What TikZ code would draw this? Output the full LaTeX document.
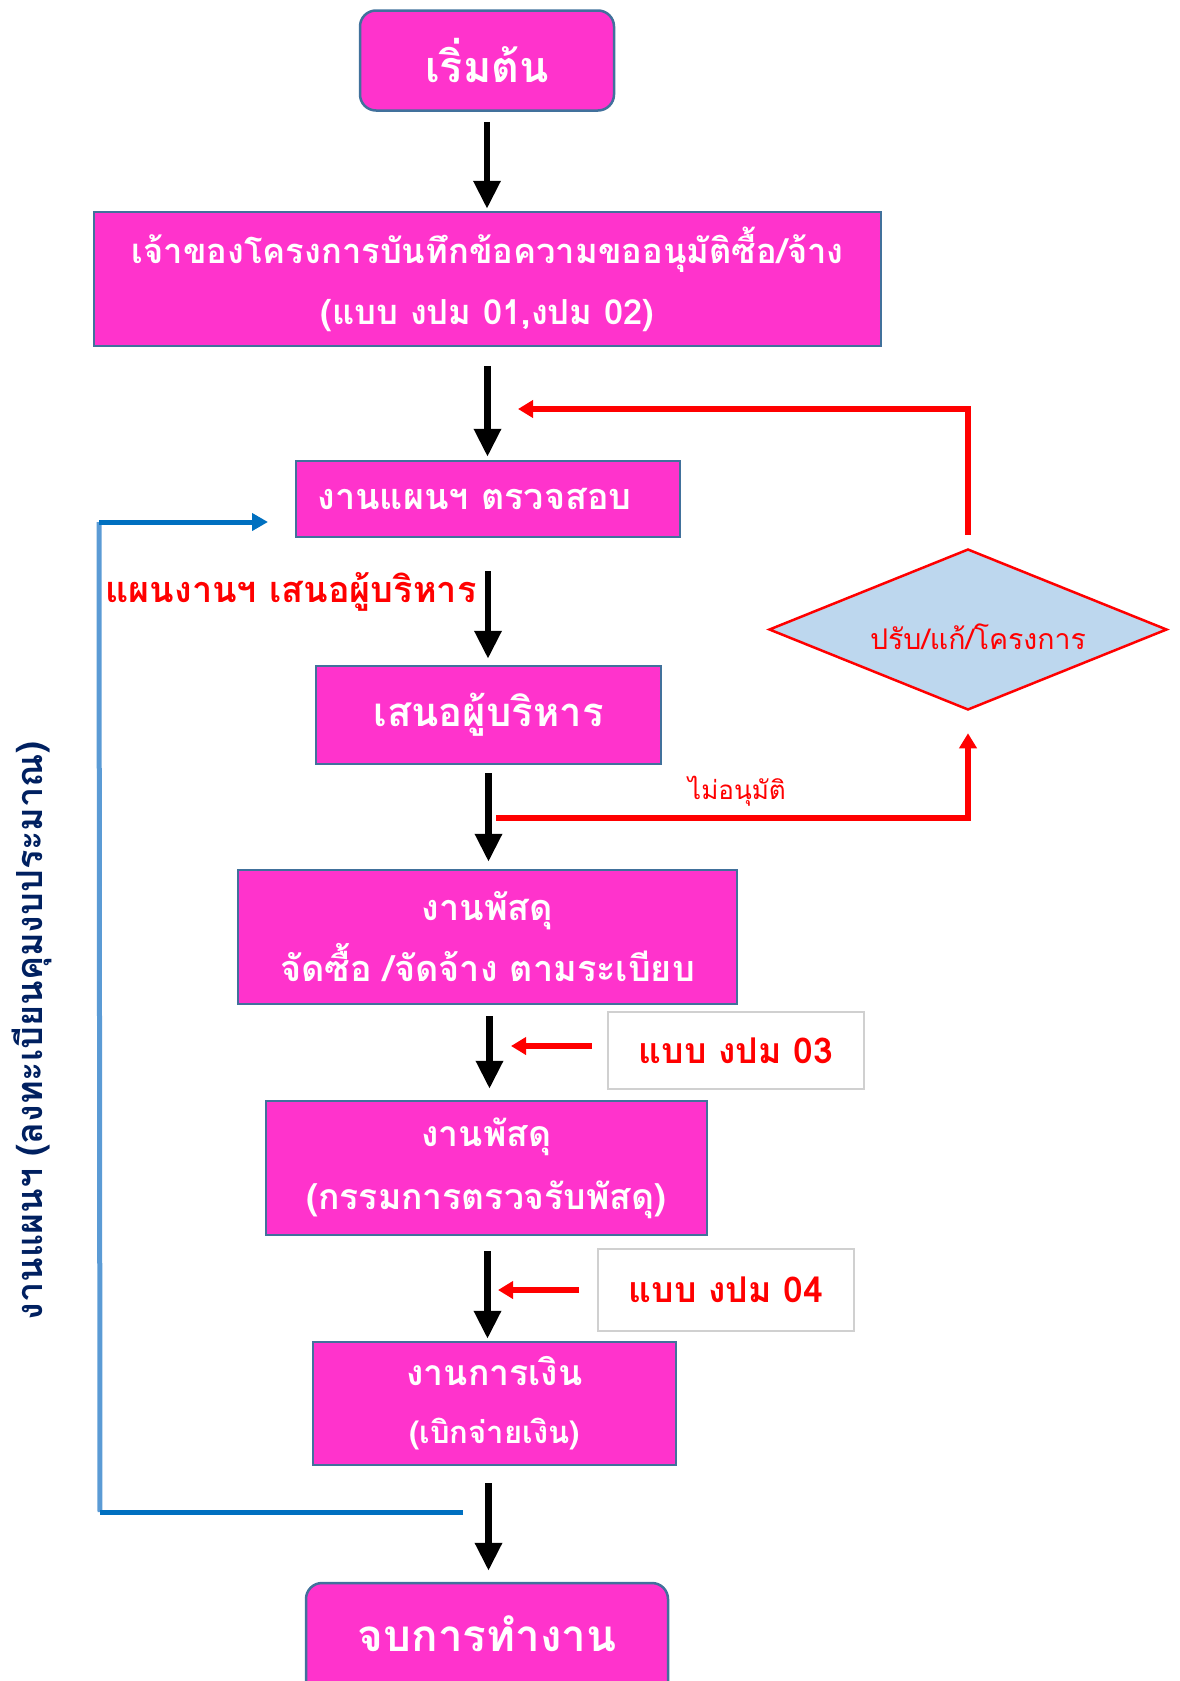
\documentclass[tikz,border=0pt]{standalone}
\usepackage{fontspec}
\setmainfont[Script=Thai]{Loma}
\usetikzlibrary{shapes.geometric,arrows.meta}

\definecolor{boxpink}{HTML}{FF33CC}
\definecolor{boxedge}{HTML}{41719C}
\definecolor{diafill}{HTML}{BDD7EE}
\definecolor{flowblue}{HTML}{0070C0}
\definecolor{lightblue}{HTML}{5B9BD5}
\definecolor{navy}{HTML}{002060}
\definecolor{formgray}{HTML}{D0D0D0}

\tikzset{
  stepbox/.style={draw=boxedge, line width=2.5pt, fill=boxpink, text=white,
    align=center, inner sep=0pt},
  termbox/.style={stepbox, rounded corners=16pt},
  formbox/.style={draw=formgray, line width=2pt, fill=white, text=red,
    inner sep=0pt, font=\fontsize{35.5}{42}\selectfont\bfseries},
  decision/.style={diamond, draw=red, line width=2.5pt, fill=diafill, text=red,
    inner sep=0pt, aspect=2.5},
  flow/.style={line width=6.5pt, draw=black,
    -{Triangle[length=28pt,width=26pt]}},
  redflow/.style={line width=5.5pt, draw=red,
    -{Triangle[length=15pt,width=17pt]}},
  bluedark/.style={line width=5pt, draw=flowblue},
  bluelight/.style={line width=5pt, draw=lightblue},
}

\begin{document}
\begin{tikzpicture}[x=1pt,y=-1pt]
  \useasboundingbox (0,0) rectangle (1179,1681);

  % process steps
  \node[termbox, minimum width=254pt, minimum height=100pt,
        font=\fontsize{43}{50}\selectfont\bfseries] (start) at (487,60.5) {เริ่มต้น};
  \node[stepbox, minimum width=787pt, minimum height=134pt,
        font=\fontsize{34.5}{61}\selectfont\bfseries] (memo) at (487.5,279)
        {เจ้าของโครงการบันทึกข้อความขออนุมัติซื้อ/จ้าง\\(แบบ งปม 01,งปม 02)};
  \node[stepbox, minimum width=384pt, minimum height=76pt] (check) at (488,499) {};
  \node[anchor=west, text=white, font=\fontsize{36}{42}\selectfont\bfseries]
        (checktext) at (314,499) {งานแผนฯ ตรวจสอบ};
  \node[stepbox, minimum width=345pt, minimum height=98pt,
        font=\fontsize{40}{47}\selectfont\bfseries] (exec) at (488.5,715) {เสนอผู้บริหาร};
  \node[stepbox, minimum width=499pt, minimum height=134pt,
        font=\fontsize{36}{61}\selectfont\bfseries] (buy) at (487.5,937)
        {งานพัสดุ\\จัดซื้อ /จัดจ้าง ตามระเบียบ};
  \node[stepbox, minimum width=441pt, minimum height=134pt,
        font=\fontsize{35.5}{63}\selectfont\bfseries] (inspect) at (486.5,1168)
        {งานพัสดุ\\(กรรมการตรวจรับพัสดุ)};
  \node[stepbox, minimum width=363pt, minimum height=123pt,
        font=\fontsize{35.5}{58}\selectfont\bfseries] (finance) at (494.5,1403.5)
        {งานการเงิน\\{\fontsize{31}{58}\selectfont(เบิกจ่ายเงิน)}};
  \node[termbox, minimum width=362pt, minimum height=120pt] (finish) at (487,1643) {};
  \node[text=white, font=\fontsize{44}{51}\selectfont\bfseries]
        (finishtext) at (487,1634) {จบการทำงาน};

  % decision
  \node[decision, minimum width=398pt, minimum height=161pt] (dia) at (968,629.5) {};
  \node[text=red, font=\fontsize{28.5}{34}\selectfont] (diatext) at (978,637) {ปรับ/แก้/โครงการ};

  % form references
  \node[formbox, minimum width=256pt, minimum height=77pt] (f03) at (736,1050.5) {แบบ งปม 03};
  \node[formbox, minimum width=256pt, minimum height=82pt] (f04) at (726,1290) {แบบ งปม 04};

  % labels
  \node[anchor=west, text=red, font=\fontsize{36}{42}\selectfont\bfseries]
        (planlabel) at (102,592) {แผนงานฯ เสนอผู้บริหาร};
  \node[text=red, font=\fontsize{26}{31}\selectfont] (rejlabel) at (737,791) {ไม่อนุมัติ};
  \node[rotate=90, text=navy, font=\fontsize{36}{42}\selectfont\bfseries]
        (sidelabel) at (32,1031) {งานแผนฯ (ลงทะเบียนคุมงบประมาณ)};

  % main flow
  \draw[flow, shorten <=10pt, shorten >=2pt] (start.south) -- (start.south |- memo.north);
  \draw[flow, shorten <=19pt, shorten >=3pt] (memo.south) -- (memo.south |- check.north);
  \draw[flow, shorten <=33pt, shorten >=6pt] (check.south) -- (check.south |- exec.north);
  \draw[flow, shorten <=8pt, shorten >=7pt] (exec.south) -- (exec.south |- buy.north);
  \draw[flow, shorten <=11pt, shorten >=11pt] ([xshift=2pt]buy.south) -- ([xshift=2pt]buy.south |- inspect.north);
  \draw[flow, shorten <=15pt, shorten >=2pt] ([xshift=1pt]inspect.south) -- ([xshift=1pt]inspect.south |- finance.north);
  \draw[flow, shorten <=17pt, shorten >=11pt] ([xshift=-6pt]finance.south) -- ([xshift=-6pt]finance.south |- finish.north);

  % revision loop
  \coordinate (fbEnd) at (518,409);
  \draw[redflow, shorten <=13pt] (dia.north) |- (fbEnd);
  \coordinate (rejStart) at (496,818);
  \draw[redflow, shorten >=22pt] (rejStart) -| (dia.south);

  % forms feeding the flow
  \coordinate (f03tip) at (511,1046);
  \draw[redflow, shorten <=15pt] (f03.west |- f03tip) -- (f03tip);
  \coordinate (f04tip) at (498,1290);
  \draw[redflow, shorten <=18pt] (f04.west) -- (f04tip);

  % budget loop back to planning
  \coordinate (loopStart) at (463,1512);
  \coordinate (loopLow) at (100,1512);
  \coordinate (loopHigh) at (99,522);
  \coordinate (loopEnd) at (268,522);
  \draw[bluelight] (loopLow) -- (loopHigh);
  \draw[bluedark] (loopStart) -- (loopLow);
  \draw[bluedark, -{Triangle[length=16pt,width=17pt]}] (loopHigh) -- (loopEnd);
\end{tikzpicture}
\end{document}
